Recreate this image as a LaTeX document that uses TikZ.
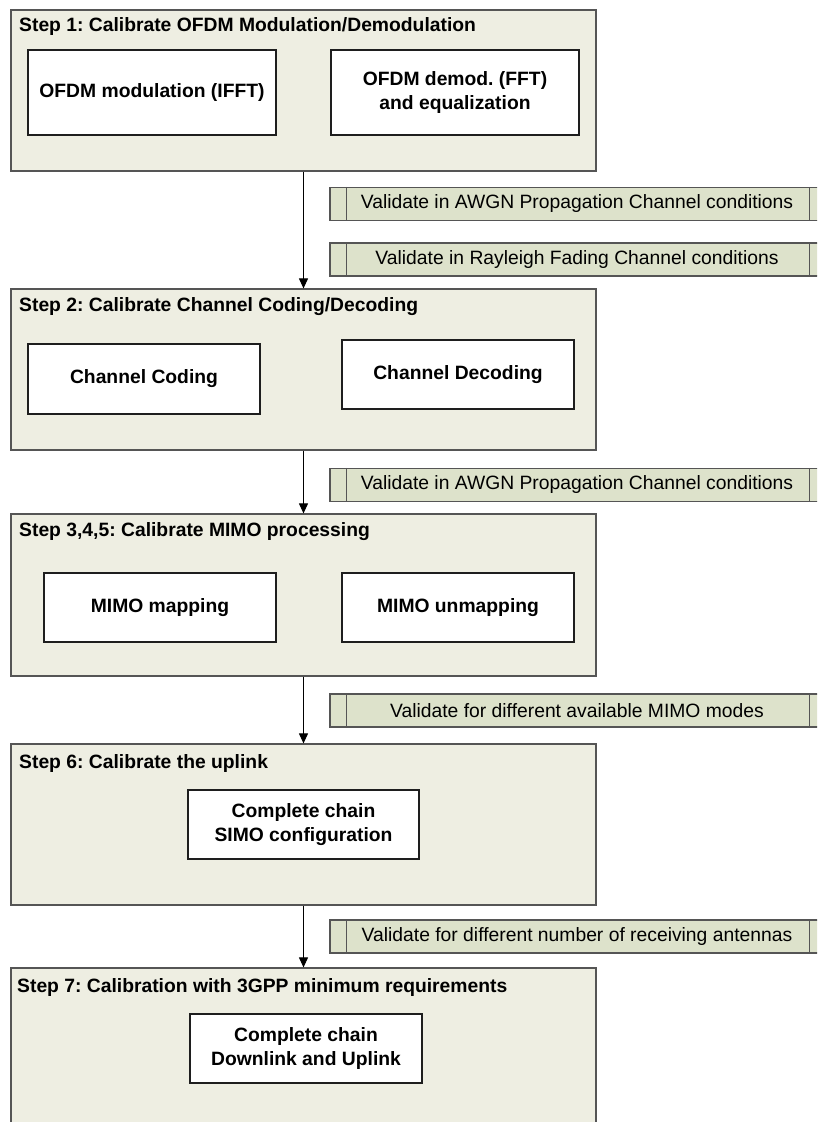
\documentclass[tikz,border=0pt]{standalone}
\usepackage{fontspec}
\setmainfont{Liberation Sans}
\usetikzlibrary{arrows.meta}
\frenchspacing
\definecolor{stepfill}{RGB}{238,238,226}
\definecolor{valfill}{RGB}{221,226,203}
\definecolor{stepline}{RGB}{85,85,85}
\definecolor{boxline}{RGB}{30,30,30}
\tikzset{
  stepbox/.style={draw=stepline, line width=1.2pt, fill=stepfill, minimum width=585pt, minimum height=161pt, inner sep=0pt},
  innerbox/.style={draw=boxline, line width=1.1pt, fill=white, minimum height=69pt, inner sep=0pt, align=center,
     font=\fontsize{19.3}{24}\selectfont\bfseries},
  steptitle/.style={anchor=west, inner sep=0pt, font=\fontsize{19.3}{24}\selectfont\bfseries},
  valbox/.style={draw=stepline, line width=1.2pt, fill=valfill, minimum width=510pt, minimum height=33pt, inner sep=0pt},
  valtext/.style={inner sep=0pt, font=\fontsize{19.3}{24}\selectfont},
  valbar/.style={draw=stepline, line width=1.2pt},
  arr/.style={draw=black, line width=1pt, -{Triangle[length=10pt,width=9pt]}}
}
\begin{document}
\begin{tikzpicture}[x=1pt,y=-1pt]
\useasboundingbox (0,0) rectangle (817,1122);
\clip (0,0) rectangle (817,1122);
\fill[white] (0,0) rectangle (817,1122);

% Step boxes
\node[stepbox] (s1) at (303.5,90.5) {};
\node[stepbox] (s2) at (303.5,369.5) {};
\node[stepbox, minimum height=162pt] (s3) at (303.5,595) {};
\node[stepbox] (s6) at (303.5,824.5) {};
\node[stepbox, minimum height=200pt] (s7) at (303.5,1068) {};

% Titles
\node[steptitle] (t1) at (19,27) {Step 1: Calibrate OFDM Modulation/Demodulation};
\node[steptitle] (t2) at (19,307) {Step 2: Calibrate Channel Coding/Decoding};
\node[steptitle] (t3) at (19,532) {Step 3,4,5: Calibrate MIMO processing};
\node[steptitle] (t6) at (19,763) {Step 6: Calibrate the uplink};
\node[steptitle] (t7) at (17,987) {Step 7: Calibration with 3GPP minimum requirements};

% Inner boxes
\node[innerbox, minimum width=248pt, minimum height=85pt] (a) at (152,92.5) {OFDM modulation (IFFT)};
\node[innerbox, minimum width=248pt, minimum height=85pt] (b) at (455,92.5) {OFDM demod. (FFT)\\and equalization};
\node[innerbox, minimum width=232pt, minimum height=70pt] (cc) at (144,379) {Channel Coding};
\node[innerbox, minimum width=232pt] (cd) at (458,374.5) {Channel Decoding};
\node[innerbox, minimum width=232pt] (mm) at (160,607.5) {MIMO mapping};
\node[innerbox, minimum width=232pt] (mu) at (458,607.5) {MIMO unmapping};
\node[innerbox, minimum width=231pt] (simo) at (303.5,824.5) {Complete chain\\SIMO configuration};
\node[innerbox, minimum width=232pt] (dl) at (306,1048.5) {Complete chain\\Downlink and Uplink};

% Validate boxes
\foreach \n/\y in {v1/204, v2/259.5, v3/485, v4/710.5, v5/936.5}{
  \node[valbox] (\n) at (585,\y) {};
  \draw[valbar] ([xshift=17pt]\n.north west) -- ([xshift=17pt]\n.south west);
  \draw[valbar] ([xshift=480pt]\n.north west) -- ([xshift=480pt]\n.south west);
}
\node[valtext] (l1) at (577,204) {Validate in AWGN Propagation Channel conditions};
\node[valtext] (l2) at (577,259.5) {Validate in Rayleigh Fading Channel conditions};
\node[valtext] (l3) at (577,485) {Validate in AWGN Propagation Channel conditions};
\node[valtext] (l4) at (577,710.5) {Validate for different available MIMO modes};
\node[valtext] (l5) at (577,936.5) {Validate for different number of receiving antennas};

% Arrows
\draw[arr] (s1.south) -- (s2.north);
\draw[arr] (s2.south) -- (s3.north);
\draw[arr] (s3.south) -- (s6.north);
\draw[arr] (s6.south) -- (s7.north);
\end{tikzpicture}
\end{document}
